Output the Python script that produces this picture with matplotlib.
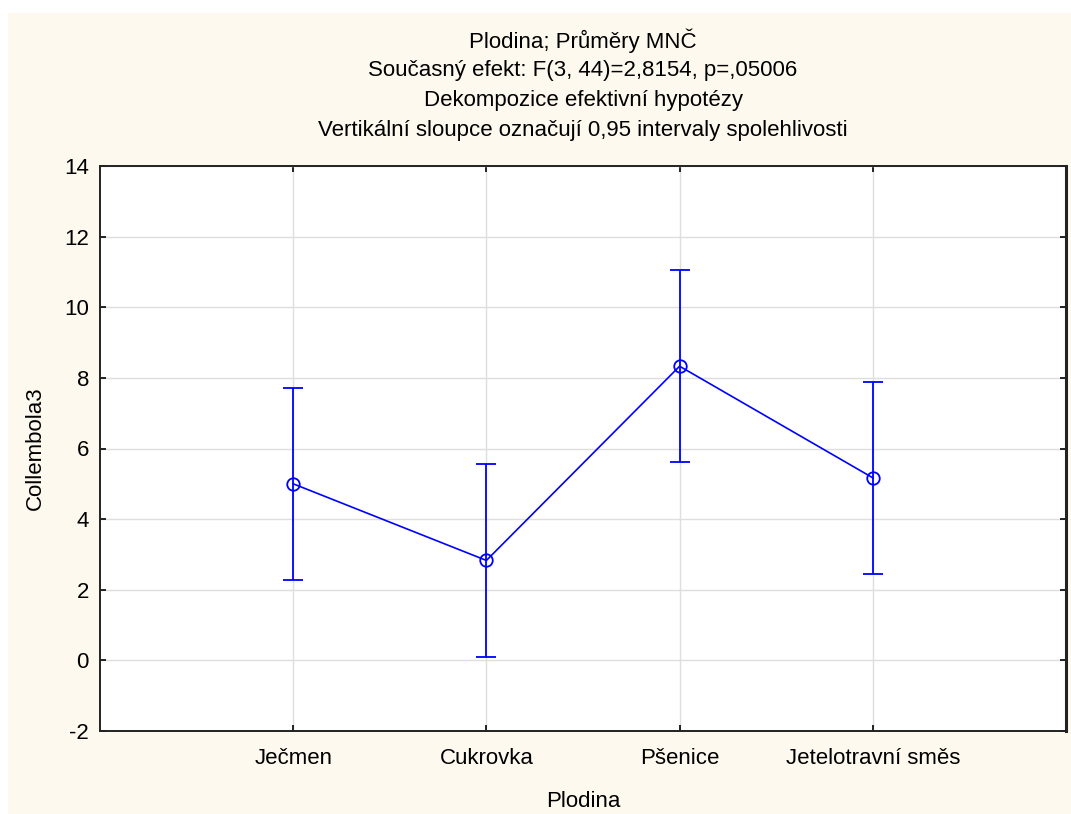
import matplotlib
matplotlib.use("Agg")
import matplotlib.pyplot as plt
from matplotlib.patches import Rectangle

# data
categories = ["Ječmen", "Cukrovka", "Pšenice", "Jetelotravní směs"]
means = [5.00, 2.83, 8.33, 5.17]
ci_low = [2.28, 0.10, 5.62, 2.45]
ci_high = [7.72, 5.55, 11.06, 7.88]
yticks = [-2, 0, 2, 4, 6, 8, 10, 12, 14]

title_lines = [
    "Plodina; Průměry MNČ",
    "Současný efekt: F(3, 44)=2,8154, p=,05006",
    "Dekompozice efektivní hypotézy",
    "Vertikální sloupce označují 0,95 intervaly spolehlivosti",
]

plt.rcParams['font.family'] = ['Liberation Sans', 'DejaVu Sans']
blue = '#0000FF'
cream = '#FEF9EE'
fs = 16

fig = plt.figure(figsize=(10.71, 8.14), dpi=100)
fig.patch.set_facecolor('white')
# cream panel with a thin white margin at top and left
fig.patches.append(Rectangle((8 / 1071, 0), 1 - 8 / 1071, 1 - 13 / 814,
                             transform=fig.transFigure, facecolor=cream,
                             edgecolor='none', zorder=-5))

ax = fig.add_axes([100 / 1071, 1 - 731 / 814, 966 / 1071, 565 / 814])
ax.set_zorder(2)
ax.set_facecolor('white')

x = list(range(1, len(categories) + 1))
err_lo = [m - l for m, l in zip(means, ci_low)]
err_hi = [h - m for m, h in zip(means, ci_high)]
ax.errorbar(x, means, yerr=[err_lo, err_hi], color=blue, lw=1.2,
            elinewidth=1.3, capsize=7, capthick=1.3, marker='o',
            markersize=9, markerfacecolor='none', markeredgewidth=1.3,
            zorder=3)

ax.set_xlim(0, len(categories) + 1)
ax.set_ylim(-2, 14)
ax.set_xticks(x)
ax.set_xticklabels(categories)
ax.set_yticks(yticks)
ax.set_yticklabels([str(v) for v in yticks])
ax.grid(True, color='#DEDEDE', lw=1)
ax.set_axisbelow(True)
ax.tick_params(direction='in', length=4, width=1.2, top=True, right=True,
               labelsize=fs, colors='black')
ax.tick_params(axis='x', pad=12)
ax.tick_params(axis='y', pad=8)
for s in ax.spines.values():
    s.set_linewidth(1.4)
    s.set_color('#222222')
ax.spines['right'].set_linewidth(2.2)

ax.set_xlabel("Plodina", fontsize=fs, labelpad=16)
ax.set_ylabel("Collembola3", fontsize=fs, labelpad=13)

cx = (100 + 1066) / 2 / 1071
for i, line in enumerate(title_lines):
    fig.text(cx, 1 - (41 + i * 29.7) / 814, line, ha='center', va='center',
             fontsize=fs)

fig.savefig("out.png", dpi=100)
